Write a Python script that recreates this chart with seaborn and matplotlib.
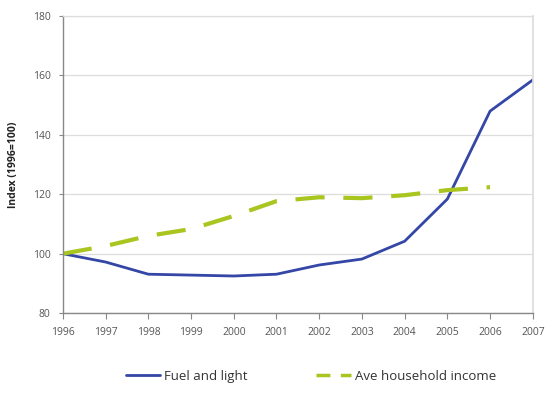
import matplotlib
matplotlib.use("Agg")
import matplotlib.pyplot as plt
import seaborn as sns
import pandas as pd

years = [1996, 1997, 1998, 1999, 2000, 2001, 2002, 2003, 2004, 2005, 2006, 2007]
fuel_and_light = [100, 97.2, 93.1, 92.8, 92.5, 93.1, 96.2, 98.2, 104.2, 118.4, 148.0, 158.5]
income_years = [1996, 1997, 1998, 1999, 2000, 2001, 2002, 2003, 2004, 2005, 2006]
household_income = [100, 102.6, 106.0, 108.3, 112.7, 117.7, 119.0, 118.7, 119.7, 121.4, 122.4]

sns.set_theme(style="white")
plt.rcParams["font.family"] = ["Open Sans", "DejaVu Sans"]

fuel_df = pd.DataFrame({"year": years, "index": fuel_and_light})
inc_df = pd.DataFrame({"year": income_years, "index": household_income})

fig = plt.figure(figsize=(5.47, 4.12), dpi=100)
ax = fig.add_axes([0.115, 0.240, 0.859, 0.721])

sns.lineplot(data=fuel_df, x="year", y="index", ax=ax, color="#3446a6",
             linewidth=2.0, label="Fuel and light")
sns.lineplot(data=inc_df, x="year", y="index", ax=ax, color="#a9c520",
             linewidth=3.0, dashes=False, label="Ave household income")
ax.lines[-1].set_dashes([7, 4.5])

ax.set_xlim(1996, 2007)
ax.set_ylim(80, 180)
ax.set_xticks(years)
ax.set_yticks(range(80, 181, 20))
ax.tick_params(axis="both", labelsize=7.5, length=4, width=0.8,
               direction="out", pad=6, color="#888888")
ax.tick_params(axis="y", length=3)
ax.tick_params(axis="x", bottom=True)
ax.tick_params(axis="y", left=True)
for lbl in ax.get_xticklabels() + ax.get_yticklabels():
    lbl.set_color("#555555")

ax.yaxis.grid(True, color="#dddddd", linewidth=0.9)
ax.set_axisbelow(True)
for side in ["left", "bottom"]:
    ax.spines[side].set_color("#888888")
    ax.spines[side].set_linewidth(1.0)
ax.spines["right"].set_color("#dddddd")
ax.spines["top"].set_color("#dddddd")
ax.spines["top"].set_linewidth(0.9)

ax.set_xlabel("")
ax.set_ylabel("Index (1996=100)", fontsize=7.5, fontweight="bold", color="#222222", labelpad=10)

leg = ax.legend(loc="upper center", bbox_to_anchor=(0.528, -0.15), ncol=2, frameon=False,
                fontsize=9.5, handlelength=2.6, columnspacing=5.2, handletextpad=0.3)
for t in leg.get_texts():
    t.set_color("#333333")
leg.get_lines()[1].set_dashes([4, 3])
leg.get_lines()[1].set_linewidth(2.5)

fig.savefig("out.png", dpi=100)
